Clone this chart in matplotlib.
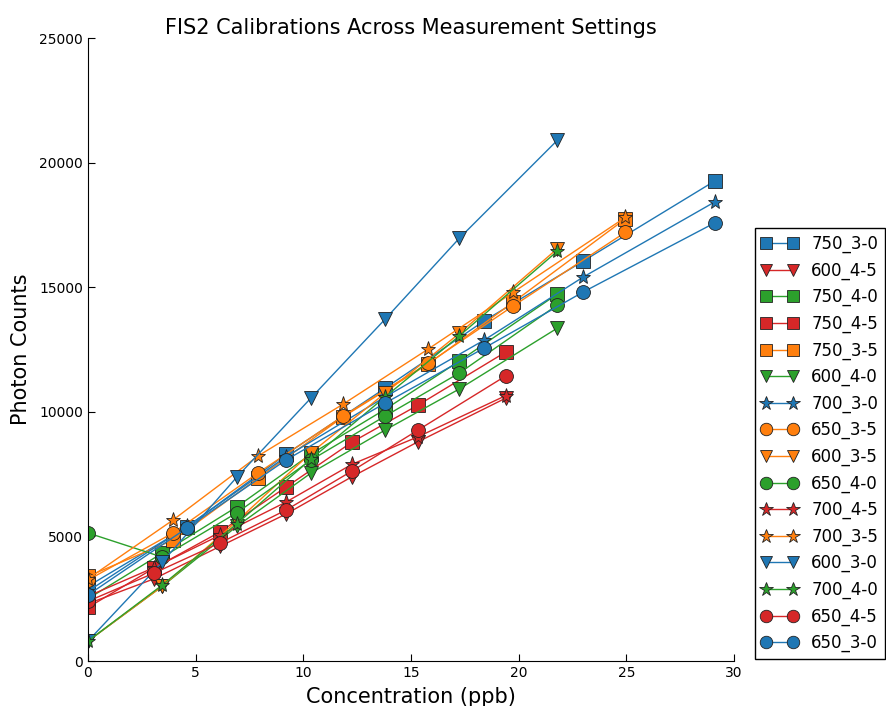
import matplotlib
matplotlib.use("Agg")
import matplotlib.pyplot as plt

# concentration grids (ppb)
x_30 = [0, 4.6, 9.2, 13.8, 18.4, 23.0, 29.1]
x_35 = [0, 3.95, 7.9, 11.85, 15.8, 19.75, 24.95]
x_40 = [0, 3.45, 6.9, 10.35, 13.8, 17.25, 21.8]
x_45 = [0, 3.07, 6.13, 9.2, 12.27, 15.33, 19.4]
x_600 = [0, 3.45, 6.9, 10.35, 13.8, 17.25, 21.8]

labels = ["750_3-0", "600_4-5", "750_4-0", "750_4-5", "750_3-5", "600_4-0",
          "700_3-0", "650_3-5", "600_3-5", "650_4-0", "700_4-5", "700_3-5",
          "600_3-0", "700_4-0", "650_4-5", "650_3-0"]

y_750_30 = [3000, 5380, 8300, 10950, 13650, 16050, 19260]
y_600_45 = [2300, 3300, 4600, 5900, 7400, 8800, 10550]
y_750_40 = [2500, 4330, 6180, 8300, 10100, 12040, 14730]
y_750_45 = [2150, 3730, 5180, 6980, 8790, 10270, 12400]
y_750_35 = [3400, 4850, 7340, 9800, 11920, 14400, 17740]
y_600_40 = [800, 3000, 5400, 7540, 9270, 10920, 13360]
y_700_30 = [2800, 5400, 8200, 10600, 12880, 15410, 18420]
y_650_35 = [3250, 5140, 7550, 9830, 11950, 14250, 17200]
y_600_35 = [800, 3000, 5600, 8350, 10750, 13150, 16550]
y_650_40 = [5140, 4170, 5940, 8060, 9830, 11560, 14290]
y_700_45 = [2600, 3750, 5050, 6380, 7900, 9000, 10650]
y_700_35 = [3300, 5660, 8230, 10310, 12520, 14800, 17800]
y_600_30 = [800, 3970, 7370, 10550, 13720, 16970, 20900]
y_700_40 = [800, 3050, 5500, 8100, 10600, 13050, 16450]
y_650_45 = [2400, 3530, 4740, 6060, 7630, 9270, 11440]
y_650_30 = [2650, 5340, 8070, 10350, 12560, 14810, 17580]

blue, orange, green, red = "#1f77b4", "#ff7f0e", "#2ca02c", "#d62728"

series = [
    (x_30, y_750_30, blue, "s"),
    (x_45, y_600_45, red, "v"),
    (x_40, y_750_40, green, "s"),
    (x_45, y_750_45, red, "s"),
    (x_35, y_750_35, orange, "s"),
    (x_600, y_600_40, green, "v"),
    (x_30, y_700_30, blue, "*"),
    (x_35, y_650_35, orange, "o"),
    (x_600, y_600_35, orange, "v"),
    (x_40, y_650_40, green, "o"),
    (x_45, y_700_45, red, "*"),
    (x_35, y_700_35, orange, "*"),
    (x_600, y_600_30, blue, "v"),
    (x_600, y_700_40, green, "*"),
    (x_45, y_650_45, red, "o"),
    (x_30, y_650_30, blue, "o"),
]

fig = plt.figure(figsize=(8.86, 7.06), dpi=100)
ax = fig.add_axes([0.0993, 0.0637, 0.7291, 0.8824])

for (xs, ys, c, m), lab in zip(series, labels):
    ms = 11 if m == "*" else 10
    ax.plot(xs, ys, color=c, marker=m, markersize=ms, markeredgecolor="#222222",
            markeredgewidth=0.6, linewidth=1.0, label=lab)

ax.set_xlim(0, 30)
ax.set_ylim(0, 25000)
ax.set_xticks([0, 5, 10, 15, 20, 25, 30])
ax.set_yticks([0, 5000, 10000, 15000, 20000, 25000])
ax.spines["top"].set_visible(False)
ax.spines["right"].set_visible(False)
ax.tick_params(direction="in", top=False, right=False, labelsize=10, length=5)
ax.set_title("FIS2 Calibrations Across Measurement Settings", fontsize=15, pad=3)
ax.set_xlabel("Concentration (ppb)", fontsize=15, labelpad=5)
ax.set_ylabel("Photon Counts", fontsize=15, labelpad=6)

leg = ax.legend(loc="center left", bbox_to_anchor=(1.032, 0.349), borderaxespad=0,
                numpoints=2, fontsize=12, fancybox=False, framealpha=1,
                edgecolor="black", handlelength=2.2, markerscale=0.9)
leg.get_frame().set_linewidth(1.0)

fig.savefig("out.png", dpi=100)
